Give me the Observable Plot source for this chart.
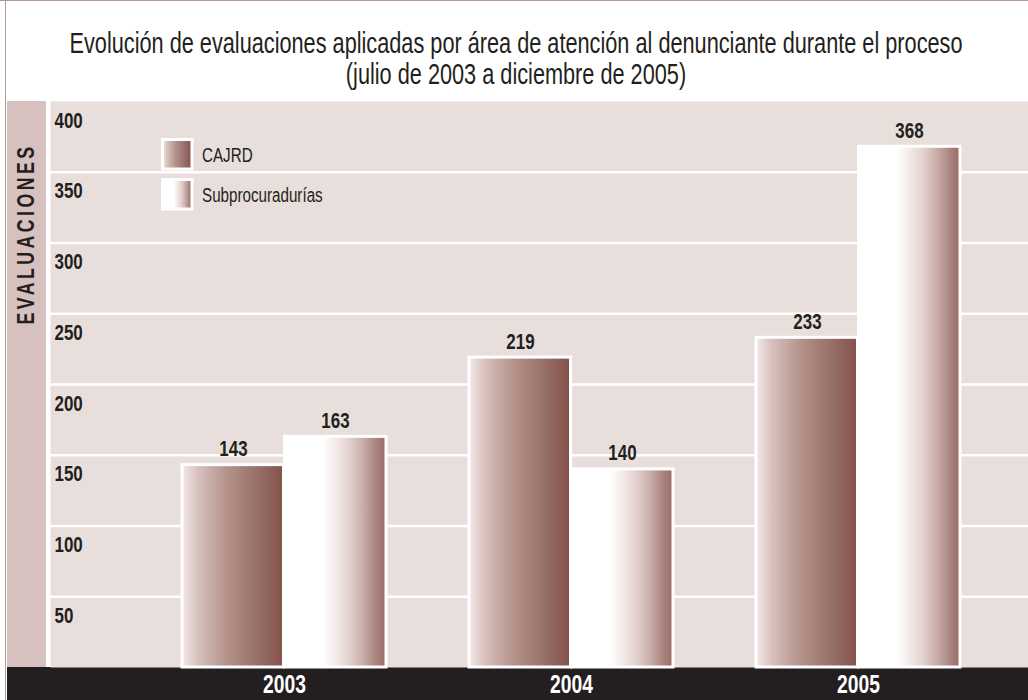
<!DOCTYPE html>
<html>
<head>
<meta charset="utf-8">
<script src="https://cdn.jsdelivr.net/npm/d3@7"></script>
<script src="https://cdn.jsdelivr.net/npm/@observablehq/plot@0.6"></script>
<style>
  html, body { margin: 0; padding: 0; background: #ffffff; }
  #wrap { position: relative; width: 1028px; height: 700px; overflow: hidden; font-family: "Liberation Sans", Arial, sans-serif; color: #231f20; }
  #topline { position: absolute; left: 0; top: 0; width: 1028px; height: 1px; background: #b39a95; }
  .tline { position: absolute; left: 0; width: 1028px; height: 31px; font-size: 30px; line-height: 30px; white-space: nowrap; }
  .tline span { position: absolute; left: 516px; top: 0; transform-origin: 0 0; }
  #t1 { top: 28px; }
  #t2 { top: 58.5px; }
  #leftline { position: absolute; left: 5px; top: 0; width: 1px; height: 700px; background: #b39a95; }
  #chart { position: absolute; left: 0; top: 100px; }
</style>
</head>
<body>
<div id="wrap">
  <div id="topline"></div>
  <div class="tline" id="t1"><span>Evolución de evaluaciones aplicadas por área de atención al denunciante durante el proceso</span></div>
  <div class="tline" id="t2"><span>(julio de 2003 a diciembre de 2005)</span></div>
  <div id="chart"></div>
  <div id="leftline"></div>
</div>
<script>
// ---- data ----
const years = ["2003", "2004", "2005"];
const seriesNames = ["CAJRD", "Subprocuradurías"];
const cajrd = [143, 219, 233];
const subprocuradurias = [163, 140, 368];
const yTickValues = [50, 100, 150, 200, 250, 300, 350, 400];
const gridValues = [50, 100, 150, 200, 250, 300, 350];
const yAxisLabel = "EVALUACIONES";

const rowsC = years.map((y, i) => ({year: y, series: seriesNames[0], value: cajrd[i]}));
const rowsS = years.map((y, i) => ({year: y, series: seriesNames[1], value: subprocuradurias[i]}));

const INK = "#231f20";
const FONT = '"Liberation Sans", Arial, sans-serif';
const BOLD_SX = 0.77;

// condensed title: fit first line to the reference width
const t1 = document.querySelector("#t1 span");
const t2 = document.querySelector("#t2 span");
const REG_SX = 893 / t1.getBoundingClientRect().width;
t1.style.transform = `scaleX(${REG_SX}) translateX(-50%)`;
t2.style.transform = `scaleX(${REG_SX}) translateX(-50%)`;

const gradients = {
  gCAJRD: [[0, "#f3eae8"], [0.15, "#d8c2be"], [0.45, "#b39189"], [0.75, "#966f68"], [1, "#85524a"]],
  gSub: [[0, "#ffffff"], [0.38, "#ffffff"], [0.5, "#f3ebe9"], [0.63, "#e4d3d0"], [0.78, "#c8aba6"], [0.92, "#a67f79"], [1, "#9b6c65"]]
};

function backdrop(index, scales, values, dim) {
  const g = d3.create("svg:g");
  const defs = g.append("defs");
  for (const [id, stops] of Object.entries(gradients)) {
    const lg = defs.append("linearGradient").attr("id", id).attr("x1", 0).attr("x2", 1).attr("y1", 0).attr("y2", 0);
    for (const [o, c] of stops) lg.append("stop").attr("offset", o).attr("stop-color", c);
  }
  g.append("rect").attr("x", 7).attr("y", dim.marginTop)
    .attr("width", dim.marginLeft - 11).attr("height", dim.height - dim.marginTop - dim.marginBottom)
    .attr("fill", "#d6c1be");
  g.append("rect").attr("x", 7).attr("y", dim.height - dim.marginBottom)
    .attr("width", dim.width - 7).attr("height", dim.marginBottom)
    .attr("fill", INK);
  return g.node();
}

function legend(index, scales, values, dim) {
  const g = d3.create("svg:g");
  const ids = ["gCAJRD", "gSub"];
  seriesNames.forEach((name, i) => {
    const y0 = 39.5 + i * 40;
    g.append("rect").attr("x", 162.5).attr("y", y0).attr("width", 29.5).attr("height", 29.5)
      .attr("fill", `url(#${ids[i]})`).attr("stroke", "white").attr("stroke-width", 3);
    g.append("text").attr("transform", `translate(202,${y0 + 15})`).attr("y", "0.36em")
      .attr("text-anchor", "start").attr("class", "reg")
      .attr("font-size", 21).attr("font-weight", "normal").attr("font-family", FONT).attr("fill", INK).text(name);
  });
  return g.node();
}

const chart = Plot.plot({
  width: 1028,
  height: 600,
  marginTop: 1,
  marginBottom: 33,
  marginLeft: 50,
  marginRight: 0,
  style: {fontFamily: FONT, background: "transparent", color: INK},
  x: {type: "band", domain: years, paddingInner: 0.288, paddingOuter: 0.342, align: 0.66, axis: null},
  y: {domain: [0, 400], axis: null},
  marks: [
    backdrop,
    Plot.frame({fill: "#e8dedb", stroke: null}),
    Plot.ruleY(gridValues, {stroke: "white", strokeWidth: 2.5}),
    Plot.text(yTickValues, {y: d => d, text: d => String(d), frameAnchor: "left", lineAnchor: "middle", dx: 4, dy: 19, textAnchor: "start", fontWeight: "bold", fontSize: 22, fill: INK}),
    Plot.text([yAxisLabel], {text: d => d, frameAnchor: "top-left", lineAnchor: "middle", dx: -23.5, dy: 42, rotate: -90, textAnchor: "end", fontWeight: "bold", fontSize: 23, fill: INK}),
    Plot.barY(rowsC, {x: "year", y: "value", fill: "url(#gCAJRD)", stroke: "white", strokeWidth: 3, insetRight: 102.5}),
    Plot.barY(rowsS, {x: "year", y: "value", fill: "url(#gSub)", stroke: "white", strokeWidth: 3, insetLeft: 102.5}),
    Plot.text(rowsC, {x: "year", y: "value", text: d => String(d.value), lineAnchor: "middle", dx: -51, dy: -16, fontWeight: "bold", fontSize: 22, fill: INK}),
    Plot.text(rowsS, {x: "year", y: "value", text: d => String(d.value), lineAnchor: "middle", dx: 51, dy: -16, fontWeight: "bold", fontSize: 22, fill: INK}),
    Plot.text(years, {x: d => d, text: d => d, frameAnchor: "bottom", lineAnchor: "middle", dy: 17, fontWeight: "bold", fontSize: 25, fill: "white"}),
    legend
  ]
});

// condense every text horizontally around its anchor (the reference uses a condensed face)
d3.select(chart).selectAll("text").each(function() {
  const t = d3.select(this);
  const sx = t.classed("reg") ? REG_SX : BOLD_SX;
  const tr = t.attr("transform") || "";
  t.attr("transform", `${tr} scale(${sx},1)`);
  if (this.textContent === yAxisLabel) t.attr("letter-spacing", 4.5);
});

document.getElementById("chart").appendChild(chart);
</script>
</body>
</html>
